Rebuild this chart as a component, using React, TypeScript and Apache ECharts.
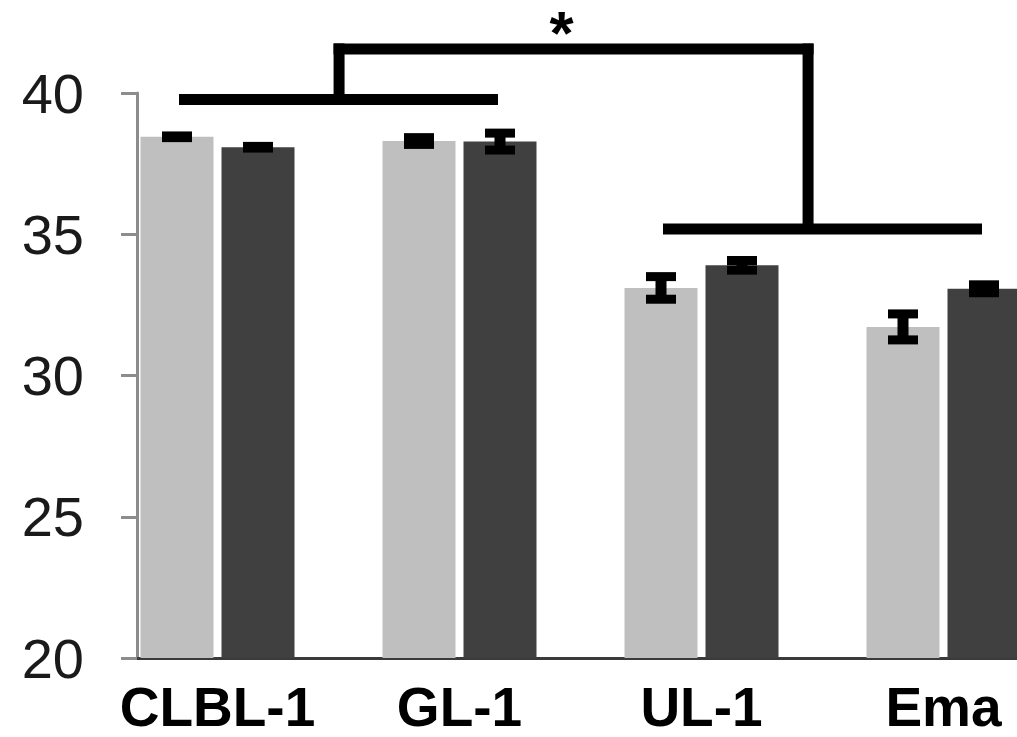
import React, { useEffect, useRef } from 'react';
import * as echarts from 'echarts';

const categories = ['CLBL-1', 'GL-1', 'UL-1', 'Ema'];
const lightValues = [38.45, 38.3, 33.1, 31.72];
const darkValues = [38.08, 38.28, 33.9, 33.07];
const lightErrors = [0.03, 0.12, 0.4, 0.46];
const darkErrors = [0.03, 0.3, 0.17, 0.14];
const yMin = 20;
const yMax = 40;
const yInterval = 5;
const bracketFrom = [0, 2];
const bracketTo = [1, 3];
const bracketLevels = [39.77, 35.19];
const bracketStems = [0.335, 2.273];
const topLevel = 41.56;
const sigLabel = '*';

const FONT = "'Liberation Sans', Arial, sans-serif";
const BAR_W = 73;
const BAR_GAP = 8;
const LIGHT_OFFSET = -(BAR_W + BAR_GAP);
const DARK_OFFSET = 0;
const LINE_W = 11;

function errorRender(offset: number) {
  return (params: any, api: any) => {
    const idx = api.value(0);
    const mean = api.value(1);
    const err = api.value(2);
    const top = api.coord([idx, mean + err]);
    const bot = api.coord([idx, mean - err]);
    const x = top[0] + offset;
    const fill = { fill: '#000' };
    return {
      type: 'group',
      children: [
        { type: 'rect', shape: { x: x - 5.5, y: top[1], width: 11, height: bot[1] - top[1] }, style: fill },
        { type: 'rect', shape: { x: x - 15, y: top[1] - 4.5, width: 30, height: 9 }, style: fill },
        { type: 'rect', shape: { x: x - 15, y: bot[1] - 4.5, width: 30, height: 9 }, style: fill },
      ],
    };
  };
}

function bracketRender(params: any, api: any) {
  const fill = { fill: '#000' };
  const children: any[] = [];
  const yTop = api.coord([0, topLevel])[1];
  const mids: number[] = [];
  const x0 = api.coord([0, topLevel])[0];
  const catW = api.size([1, 0])[0];
  bracketFrom.forEach((from, i) => {
    const a = api.coord([from, bracketLevels[i]]);
    const b = api.coord([bracketTo[i], bracketLevels[i]]);
    const xs = a[0] + LIGHT_OFFSET + 2;
    const xe = b[0] + DARK_OFFSET - 2;
    const y = a[1];
    const m = x0 + bracketStems[i] * catW;
    mids.push(m);
    children.push({ type: 'rect', shape: { x: xs, y: y - LINE_W / 2, width: xe - xs, height: LINE_W }, style: fill });
    children.push({ type: 'rect', shape: { x: m - LINE_W / 2, y: yTop - LINE_W / 2, width: LINE_W, height: y - yTop + LINE_W / 2 }, style: fill });
  });
  children.push({
    type: 'rect',
    shape: { x: mids[0] - LINE_W / 2, y: yTop - LINE_W / 2, width: mids[1] - mids[0] + LINE_W, height: LINE_W },
    style: fill,
  });
  children.push({
    type: 'text',
    x: (mids[0] + mids[1]) / 2 - 12,
    y: yTop - 16,
    style: {
      text: sigLabel,
      fontSize: 62,
      lineHeight: 20,
      fontWeight: 'bold',
      fontFamily: FONT,
      fill: '#000',
      align: 'center',
      verticalAlign: 'middle',
    },
  });
  return { type: 'group', children };
}

export default function App() {
  const ref = useRef<HTMLDivElement>(null);
  useEffect(() => {
    if (!ref.current) return;
    const chart = echarts.init(ref.current, undefined, { renderer: 'svg' });
    chart.setOption({
      animation: false,
      backgroundColor: '#fff',
      grid: { left: 137, top: 93, width: 968, height: 565 },
      xAxis: {
        type: 'category',
        data: categories,
        axisLine: { lineStyle: { color: '#3a3a3a', width: 3 } },
        axisTick: { show: false },
        axisLabel: {
          interval: 0,
          margin: 24,
          fontSize: 55,
          lineHeight: 50,
          fontWeight: 'bold',
          fontFamily: FONT,
          color: '#000',
          padding: [0, BAR_W + BAR_GAP, 0, 0],
        },
      },
      yAxis: {
        type: 'value',
        min: yMin,
        max: yMax,
        interval: yInterval,
        axisLine: { show: true, lineStyle: { color: '#8c8c8c', width: 3 } },
        axisTick: { show: true, length: 16, lineStyle: { color: '#8c8c8c', width: 3 } },
        splitLine: { show: false },
        axisLabel: { margin: 53, fontSize: 56, fontFamily: FONT, color: '#1a1a1a' },
      },
      series: [
        {
          name: 'light',
          type: 'bar',
          data: lightValues,
          barWidth: BAR_W,
          barGap: `${(BAR_GAP / BAR_W) * 100}%`,
          itemStyle: { color: '#bfbfbf' },
        },
        {
          name: 'dark',
          type: 'bar',
          data: darkValues,
          barWidth: BAR_W,
          itemStyle: { color: '#404040' },
        },
        {
          name: 'spacer',
          type: 'bar',
          data: categories.map(() => null),
          barWidth: BAR_W,
          silent: true,
        },
        {
          name: 'lightErr',
          type: 'custom',
          renderItem: errorRender(LIGHT_OFFSET),
          data: categories.map((_, i) => [i, lightValues[i], lightErrors[i]]),
          z: 5,
        },
        {
          name: 'darkErr',
          type: 'custom',
          renderItem: errorRender(DARK_OFFSET),
          data: categories.map((_, i) => [i, darkValues[i], darkErrors[i]]),
          z: 5,
        },
        {
          name: 'brackets',
          type: 'custom',
          renderItem: bracketRender,
          data: [[0, topLevel]],
          clip: false,
          z: 6,
        },
      ],
    });
    return () => chart.dispose();
  }, []);
  return (
    <div
      ref={ref}
      style={{ position: 'fixed', left: 0, top: 0, width: 1120, height: 737, background: '#fff' }}
    />
  );
}
